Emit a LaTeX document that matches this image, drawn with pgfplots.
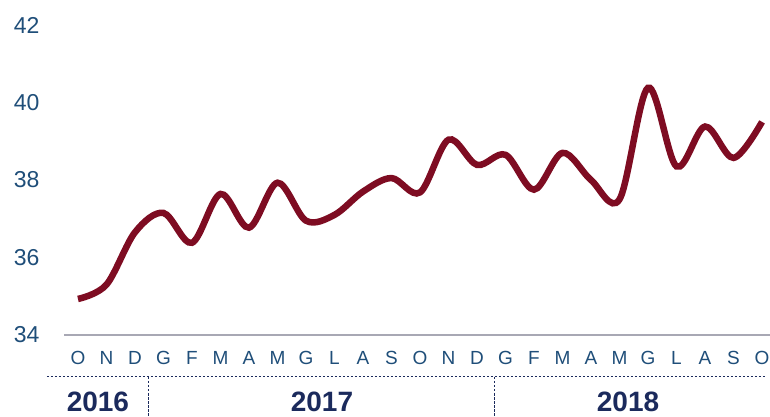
\documentclass[border=0pt]{standalone}
\usepackage{fontspec}
\setmainfont{Liberation Sans}
\usepackage{pgfplots}
\pgfplotsset{compat=1.18}
\definecolor{linered}{HTML}{7E0C22}
\definecolor{labblue}{HTML}{1F4E79}
\definecolor{yearnavy}{HTML}{1B2A5C}
\definecolor{axgray}{HTML}{A8A8B4}
\begin{document}
\begin{tikzpicture}[x=1pt,y=1pt]
\useasboundingbox (0,0) rectangle (770,417);
\begin{axis}[
  at={(64pt,82pt)}, anchor=south west,
  scale only axis, width=706pt, height=310pt,
  xmin=-0.49, xmax=24.28, ymin=34, ymax=42,
  axis x line*=bottom, axis y line*=left,
  x axis line style={-, draw=axgray, line width=2pt},
  y axis line style={draw=none},
  major tick length=0pt,
  ytick={34,36,38,40,42},
  xtick={0,...,24},
  xticklabels={O,N,D,G,F,M,A,M,G,L,A,S,O,N,D,G,F,M,A,M,G,L,A,S,O},
  /pgf/number format/assume math mode=true,
  yticklabel style={font=\fontsize{23}{26}\selectfont, text=labblue, anchor=east, xshift=-21pt},
  xticklabel style={font=\fontsize{19}{22}\selectfont, text=labblue, anchor=center, yshift=-23pt},
  clip=false,
]
\addplot[linered, line width=6.5pt, smooth, tension=0.55] coordinates {
(0,34.93) (1,35.3) (2,36.65) (3,37.15) (4,36.38) (5,37.64) (6,36.77) (7,37.93)
(8,36.95) (9,37.1) (10,37.7) (11,38.05) (12,37.68) (13,39.04) (14,38.39)
(15,38.65) (16,37.75) (17,38.7) (18,38.0) (19,37.5) (20,40.38) (21,38.35)
(22,39.38) (23,38.57) (24,39.5)
};
\draw[yearnavy, line width=1pt, dash pattern=on 2.5pt off 1.5pt]
  ([yshift=-42pt]axis cs:-1.09,34) -- ([yshift=-42pt]axis cs:24.14,34);
\draw[yearnavy, line width=1pt, dash pattern=on 2.5pt off 1.5pt]
  ([yshift=-42pt]axis cs:2.48,34) -- ([yshift=-82pt]axis cs:2.48,34);
\draw[yearnavy, line width=1pt, dash pattern=on 2.5pt off 1.5pt]
  ([yshift=-42pt]axis cs:14.6,34) -- ([yshift=-82pt]axis cs:14.6,34);
\node[font=\fontsize{28}{31}\selectfont\bfseries, text=yearnavy, inner sep=0pt] at ([yshift=-67pt]axis cs:0.7,34) {2016};
\node[font=\fontsize{28}{31}\selectfont\bfseries, text=yearnavy, inner sep=0pt] at ([yshift=-67pt]axis cs:8.56,34) {2017};
\node[font=\fontsize{28}{31}\selectfont\bfseries, text=yearnavy, inner sep=0pt] at ([yshift=-67pt]axis cs:19.3,34) {2018};
\end{axis}
\end{tikzpicture}
\end{document}
